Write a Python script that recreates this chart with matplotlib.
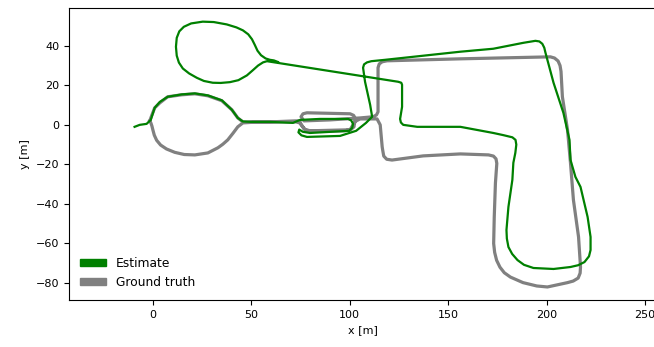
import numpy as np
import matplotlib.pyplot as plt
from matplotlib.patches import Patch

# --- Trajectories (x, y in metres) ---
gt_x = [-1.5, -0.7, 1.0, 3.6, 7.6, 14.7, 21.4, 28.0, 35.1, 40.2, 43.2, 45.8, 50.0,
        59.5, 72.2, 74.6, 75.3, 76.8, 78.8, 97.7, 100.8, 102.2, 102.7, 102.0, 100.2,
        78.3, 76.3, 75.3, 76.8, 90.0, 105.3, 111.9, 113.6, 114.4, 114.4, 114.4, 115.0,
        116.5, 119.0, 156.2, 201.9, 204.0, 205.8, 206.8, 207.3, 208.0, 210.6, 212.1,
        213.6, 216.2, 217.2, 217.0, 216.0, 213.5, 210.6, 200.4, 195.0, 188.0, 181.6,
        178.5, 176.3, 174.6, 173.6, 173.1, 173.4, 174.0, 174.7, 174.3, 173.0, 170.5,
        156.2, 137.3, 121.5, 118.8, 117.3, 116.8, 116.5, 115.5, 113.9, 105.3, 103.3,
        101.8, 100.2, 79.9, 77.0, 75.8, 74.6, 72.7, 54.4, 45.8, 43.2, 40.8, 38.1,
        35.6, 33.1, 28.0, 21.4, 16.0, 11.2, 7.0, 4.0, 2.0, 0.8, 0.1, -0.4, -0.9, -1.5]
gt_y = [2.0, 4.2, 8.6, 11.1, 14.2, 15.2, 15.7, 14.7, 12.2, 7.6, 3.5, 1.5, 1.5,
        1.5, 2.0, 2.0, 0.3, -1.8, -3.3, -3.0, -2.2, -1.0, 3.5, 4.8, 5.6,
        6.1, 5.6, 4.1, 2.0, 2.5, 3.5, 4.1, 5.0, 6.6, 17.7, 28.9, 30.8,
        31.9, 32.4, 33.4, 34.4, 33.8, 32.3, 30.0, 27.0, 14.2, -2.5, -19.2,
        -38.0, -56.7, -71.9, -75.0, -77.5, -79.0, -79.8, -82.0, -81.5, -79.8, -77.0,
        -74.8, -72.0, -68.5, -64.5, -60.0, -46.6, -29.4, -19.5, -17.2, -15.8, -15.2,
        -14.7, -15.7, -17.8, -17.4, -15.8, -13.0, -11.1, 0.0, 3.0, 3.0, 2.0,
        0.2, -2.5, -3.0, -2.2, -0.5, 1.0, 1.5, 1.5, 1.0, -1.0, -4.2, -7.6,
        -9.8, -11.6, -14.2, -15.2, -15.0, -13.9, -12.2, -10.2, -7.8, -5.2, -2.6, -0.6, 0.9, 2.0]

est_x = [-9.2, -6.6, -3.1, -1.0, 1.0, 3.6, 7.6, 14.7, 21.4, 28.0, 35.1, 40.2, 43.2,
         45.8, 50.0, 59.5, 71.2, 74.8, 84.9, 99.2, 100.8, 101.7, 101.3, 99.7, 79.9,
         76.2, 74.4, 74.0, 75.5, 78.3, 95.1, 103.3, 108.3, 111.4, 110.4, 107.8, 106.8,
         107.3, 108.8, 111.0, 118.0, 156.2, 172.9, 188.2, 194.3, 196.3, 197.8, 198.8,
         199.4, 203.5, 208.5, 211.6, 212.1, 214.6, 217.2, 220.8, 222.3, 222.3, 221.5,
         219.2, 216.0, 212.1, 203.5, 193.3, 188.5, 185.2, 182.5, 180.6, 179.8, 179.6,
         180.6, 182.6, 183.1, 184.1, 184.6, 184.2, 182.6, 178.0, 172.9, 156.2, 134.3,
         127.2, 126.0, 125.6, 126.6, 126.6, 126.2, 124.6, 58.0, 56.0, 53.5, 50.8,
         47.8, 43.5, 39.2, 34.5, 30.5, 26.0, 22.4, 18.5, 15.3, 13.3, 12.2, 11.8,
         12.2, 13.5, 15.8, 19.5, 25.4, 31.0, 37.6, 42.5, 45.8, 48.5, 50.4, 51.8,
         53.2, 55.0, 57.3, 59.5, 61.5, 63.6]
est_y = [-1.0, 0.0, 0.5, 2.5, 8.6, 11.6, 14.2, 15.4, 15.9, 14.9, 12.4, 7.6, 3.5,
         1.7, 1.5, 1.5, 1.0, 2.5, 3.0, 3.0, 2.2, 0.5, -1.5, -3.0, -4.1,
         -3.5, -2.4, -3.8, -5.3, -6.1, -5.6, -3.0, 1.0, 4.1, 10.1, 21.8, 28.9,
         30.6, 31.6, 32.2, 32.9, 37.0, 38.5, 41.5, 42.5, 42.2, 41.0, 39.0,
         36.5, 21.3, 6.1, -7.6, -17.7, -26.3, -31.4, -46.6, -56.7, -63.3, -66.5,
         -69.4, -71.0, -71.9, -72.9, -72.4, -70.8, -68.4, -65.3, -61.8, -57.5, -53.2,
         -41.5, -27.8, -19.2, -14.2, -10.0, -7.6, -6.3, -5.2, -4.1, -1.0, -1.0,
         0.0, 1.2, 3.0, 9.1, 20.3, 21.3, 21.8, 32.2, 31.6, 30.0, 27.6,
         25.0, 22.6, 21.6, 21.2, 21.3, 22.2, 23.8, 26.0, 28.5, 31.5, 35.0, 39.5,
         44.0, 47.3, 49.6, 51.3, 52.2, 52.0, 50.8, 49.3, 47.8, 45.8, 43.3, 40.5,
         37.5, 35.2, 33.6, 32.9, 32.6, 31.8]

labels = ['Estimate', 'Ground truth']
colors = ['green', 'gray']

fig = plt.figure(figsize=(6.54, 3.47), dpi=100)
ax = fig.add_axes([0.1055, 0.1354, 0.899, 0.8415])

ax.plot(gt_x, gt_y, color=colors[1], linewidth=2.3, solid_joinstyle='round')
ax.plot(est_x, est_y, color=colors[0], linewidth=1.6, solid_joinstyle='round')

ax.set_xlim(-42.5, 256)
ax.set_ylim(-88.6, 59.1)
ax.set_xticks([0, 50, 100, 150, 200, 250])
ax.set_yticks([-80, -60, -40, -20, 0, 20, 40])
ax.tick_params(labelsize=8)
ax.set_xlabel('x [m]', fontsize=8)
ax.set_ylabel('y [m]', fontsize=8)
ax.spines['right'].set_visible(False)

handles = [Patch(color=c) for c in colors]
ax.legend(handles, labels, loc='lower left', frameon=False, fontsize=8.8,
          handlelength=2.15, handleheight=0.55)

fig.savefig('out.png', dpi=100)
